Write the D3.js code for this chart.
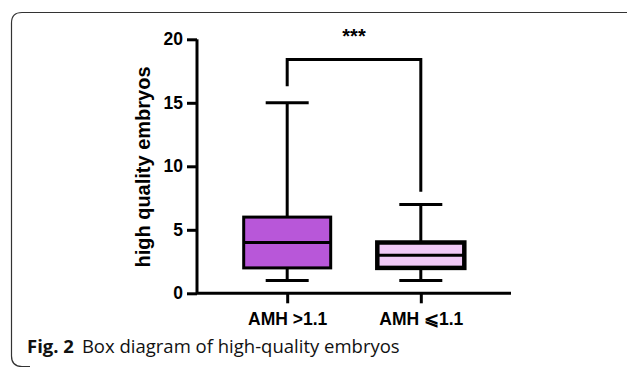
<!DOCTYPE html>
<html>
<head>
<meta charset="utf-8">
<script src="https://cdn.jsdelivr.net/npm/d3@7"></script>
<style>
  body { margin: 0; background: #fff; }
  text { font-family: "Liberation Sans", Arial, sans-serif; }
</style>
</head>
<body>
<div id="chart"></div>
<script>
// data
const groups = ['AMH >1.1', 'AMH \u2A7D1.1'];
const mins = [1, 1];
const q1s = [2, 2];
const medians = [4, 3];
const q3s = [6, 4];
const maxs = [15, 7];
const fills = ['#b857d9', '#f0c9f6'];
const yTicks = [0, 5, 10, 15, 20];
const bracketTop = 18.4;
const bracketLegs = [16.3, 8];
const sigLabel = '***';

const width = 627;
const height = 369;

const svg = d3.select('#chart')
    .append('svg')
    .attr('width', width)
    .attr('height', height);

// rounded frame, top + left edges only
svg.append('path')
    .attr('d', 'M627,12.5 H22 Q11.5,12.5 11.5,23 V356 Q11.5,366.5 22,366.5 H30')
    .attr('fill', 'none')
    .attr('stroke', '#333')
    .attr('stroke-width', 1.2);

const x = d3.scalePoint()
    .domain(groups)
    .range([197, 511])
    .padding(0.675);

const y = d3.scaleLinear()
    .domain([0, 20])
    .range([293.3, 39.3]);

const boxW = 87;
const capW = 43;

// y axis
const yAxis = svg.append('g')
    .attr('transform', 'translate(197,0)')
    .call(d3.axisLeft(y).tickValues(yTicks).tickSize(10).tickPadding(4));
yAxis.select('.domain').attr('stroke-width', 3).attr('d', `M0,${y(0)}V${y(20)}`);
yAxis.selectAll('.tick line').attr('stroke-width', 3);
yAxis.selectAll('.tick text')
    .style('font-size', '17.5px')
    .style('font-weight', 'bold')
    .attr('fill', '#000');

// x axis
const xAxis = svg.append('g')
    .attr('transform', `translate(0,${y(0)})`)
    .call(d3.axisBottom(x).tickSize(10).tickPadding(9));
xAxis.select('.domain').attr('stroke-width', 3).attr('d', 'M197,0H511');
xAxis.selectAll('.tick line').attr('stroke-width', 3);
xAxis.selectAll('.tick text')
    .style('font-size', '17.5px')
    .style('font-weight', 'bold')
    .attr('fill', '#000');

svg.append('text')
    .attr('transform', 'translate(150,167) rotate(-90)')
    .attr('text-anchor', 'middle')
    .style('font-size', '20px')
    .style('font-weight', 'bold')
    .text('high quality embryos');

// boxes
const boxes = svg.selectAll('.box')
    .data(groups)
    .enter()
    .append('g')
    .attr('class', 'box');

boxes.append('line')
    .attr('x1', d => x(d)).attr('x2', d => x(d))
    .attr('y1', (d, i) => y(maxs[i])).attr('y2', (d, i) => y(q3s[i]))
    .attr('stroke', '#000').attr('stroke-width', 3);
boxes.append('line')
    .attr('x1', d => x(d)).attr('x2', d => x(d))
    .attr('y1', (d, i) => y(q1s[i])).attr('y2', (d, i) => y(mins[i]))
    .attr('stroke', '#000').attr('stroke-width', 3);
boxes.append('line')
    .attr('x1', d => x(d) - capW / 2).attr('x2', d => x(d) + capW / 2)
    .attr('y1', (d, i) => y(maxs[i])).attr('y2', (d, i) => y(maxs[i]))
    .attr('stroke', '#000').attr('stroke-width', 3);
boxes.append('line')
    .attr('x1', d => x(d) - capW / 2).attr('x2', d => x(d) + capW / 2)
    .attr('y1', (d, i) => y(mins[i])).attr('y2', (d, i) => y(mins[i]))
    .attr('stroke', '#000').attr('stroke-width', 3);
boxes.append('rect')
    .attr('x', d => x(d) - boxW / 2)
    .attr('width', boxW)
    .attr('y', (d, i) => y(q3s[i]))
    .attr('height', (d, i) => y(q1s[i]) - y(q3s[i]))
    .attr('fill', (d, i) => fills[i])
    .attr('stroke', '#000')
    .attr('stroke-width', (d, i) => i === 0 ? 3 : 4.5);
boxes.append('line')
    .attr('x1', d => x(d) - boxW / 2).attr('x2', d => x(d) + boxW / 2)
    .attr('y1', (d, i) => y(medians[i])).attr('y2', (d, i) => y(medians[i]))
    .attr('stroke', '#000').attr('stroke-width', 3);

// significance bracket
const bx1 = x(groups[0]), bx2 = x(groups[1]);
svg.append('path')
    .attr('d', `M${bx1},${y(bracketLegs[0])}V${y(bracketTop)}H${bx2}V${y(bracketLegs[1])}`)
    .attr('fill', 'none')
    .attr('stroke', '#000')
    .attr('stroke-width', 3);
svg.append('text')
    .attr('x', (bx1 + bx2) / 2)
    .attr('y', 43)
    .attr('text-anchor', 'middle')
    .style('font-size', '20px')
    .style('font-weight', 'bold')
    .text(sigLabel);

// caption
const cap = svg.append('text')
    .attr('x', 27)
    .attr('y', 353)
    .style('font-family', '"Open Sans", "Noto Sans", sans-serif')
    .style('font-size', '18.5px')
    .attr('fill', '#111');
cap.append('tspan').style('font-weight', 'bold').text('Fig. 2');
cap.append('tspan').attr('dx', 8).text('Box diagram of high-quality embryos');
</script>
</body>
</html>
